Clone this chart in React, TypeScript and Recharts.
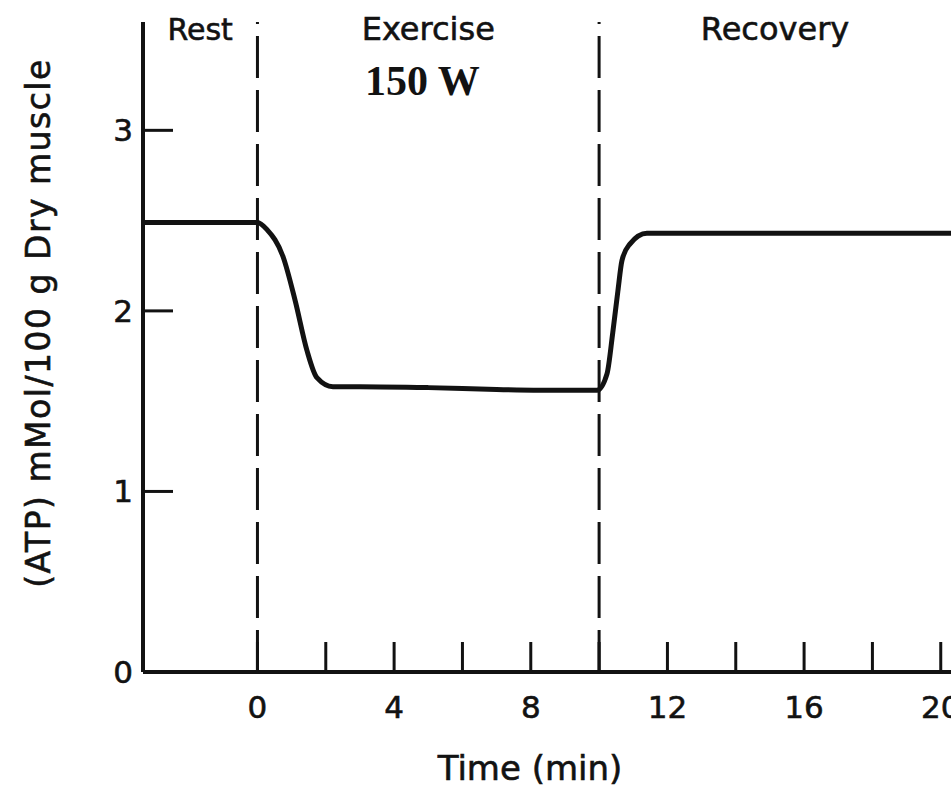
import React from 'react';
import {
  LineChart,
  Line,
  XAxis,
  YAxis,
  ReferenceLine,
  ReferenceArea,
} from 'recharts';

// time in min, ATP in mMol/100 g dry muscle
const TIME = [-3.35, -2, -1, 0, 0.28, 0.75, 1.1, 1.45, 1.74, 2.21, 3, 5, 7, 9, 9.94, 10.23, 10.4, 10.55, 10.67, 10.9, 11.4, 13, 16, 20.3];
const ATP = [2.49, 2.49, 2.49, 2.49, 2.45, 2.3, 2.06, 1.78, 1.63, 1.58, 1.58, 1.575, 1.565, 1.56, 1.56, 1.65, 1.88, 2.11, 2.28, 2.37, 2.43, 2.43, 2.43, 2.43];

const X_TICKS = [0, 2, 4, 6, 8, 10, 12, 14, 16, 18, 20];
const X_LABELS = [0, 4, 8, 12, 16, 20];
const Y_TICKS = [0, 1, 2, 3];

const PHASES = [
  { name: 'Rest', from: -3.35, to: 0 },
  { name: 'Exercise', from: 0, to: 10, sub: '150 W' },
  { name: 'Recovery', from: 10, to: 20.3 },
];

const data = TIME.map((t, i) => ({ t, atp: ATP[i] }));

const INK = '#121212';
const SANS = '"DejaVu Sans", sans-serif';

const XTick = ({ x, y, payload }: any) => (
  <g>
    <line x1={x} x2={x} y1={y} y2={y - 30} stroke={INK} strokeWidth={3} />
    {X_LABELS.includes(payload.value) && (
      <text x={x} y={y + 46} textAnchor="middle" fontFamily={SANS} fontSize={31} fill={INK} stroke={INK} strokeWidth={0.6}>
        {payload.value}
      </text>
    )}
  </g>
);

const YTick = ({ x, y, payload }: any) => (
  <g>
    <line x1={x} x2={x + 30} y1={y} y2={y} stroke={INK} strokeWidth={3} />
    <text x={x - 10} y={y + 11} textAnchor="end" fontFamily={SANS} fontSize={31} fill={INK} stroke={INK} strokeWidth={0.6}>
      {payload.value}
    </text>
  </g>
);

const PhaseLabel = (name: string, sub?: string) => ({ viewBox }: any) => {
  const cx = viewBox.x + viewBox.width / 2;
  return (
    <g>
      <text x={cx} y={40} textAnchor="middle" fontFamily={SANS} fontSize={name === 'Rest' ? 30 : 32} fill={INK} stroke={INK} strokeWidth={0.6}>
        {name}
      </text>
      {sub && (
        <text x={cx - 6} y={95} textAnchor="middle" fontFamily='"Liberation Serif", serif' fontWeight="bold" fontSize={42} fill={INK}>
          {sub}
        </text>
      )}
    </g>
  );
};

export default function App() {
  return (
    <div style={{ position: 'absolute', left: 0, top: 0, width: 951, height: 792, background: '#fff' }}>
      <LineChart width={951} height={792} data={data} margin={{ top: 22, right: 0, bottom: 0, left: 0 }}>
        <XAxis
          dataKey="t"
          type="number"
          domain={[-3.35, 20.3]}
          allowDataOverflow
          ticks={X_TICKS}
          interval={0}
          height={120}
          tickSize={0}
          tickMargin={0}
          tickLine={false}
          axisLine={{ stroke: INK, strokeWidth: 4 }}
          tick={<XTick />}
          label={{
            content: () => (
              <text x={530} y={780} textAnchor="middle" fontFamily={SANS} fontSize={34} fill={INK} stroke={INK} strokeWidth={0.6}>
                Time (min)
              </text>
            ),
          }}
        />
        <YAxis
          type="number"
          domain={[0, 3.6]}
          allowDataOverflow
          ticks={Y_TICKS}
          interval={0}
          width={143}
          tickSize={0}
          tickMargin={0}
          tickLine={false}
          axisLine={{ stroke: INK, strokeWidth: 4 }}
          tick={<YTick />}
          label={{
            content: ({ viewBox }: any) => {
              const cy = viewBox.y + viewBox.height / 2 - 24;
              return (
                <text
                  x={38}
                  y={cy}
                  transform={`rotate(-90 38 ${cy})`}
                  textAnchor="middle"
                  dominantBaseline="central"
                  fontFamily={SANS}
                  fontSize={33}
                  letterSpacing={1.5}
                  fill={INK}
                  stroke={INK}
                  strokeWidth={0.6}
                >
                  (ATP) mMol/100 g Dry muscle
                </text>
              );
            },
          }}
        />
        {PHASES.map((p) => (
          <ReferenceArea key={p.name} x1={p.from} x2={p.to} fillOpacity={0} strokeOpacity={0} label={{ content: PhaseLabel(p.name, p.sub) }} />
        ))}
        <ReferenceLine x={0} stroke={INK} strokeWidth={3} strokeDasharray="42 12" />
        <ReferenceLine x={10} stroke={INK} strokeWidth={3} strokeDasharray="42 12" />
        <Line type="monotone" dataKey="atp" stroke={INK} strokeWidth={5} dot={false} isAnimationActive={false} />
      </LineChart>
    </div>
  );
}
